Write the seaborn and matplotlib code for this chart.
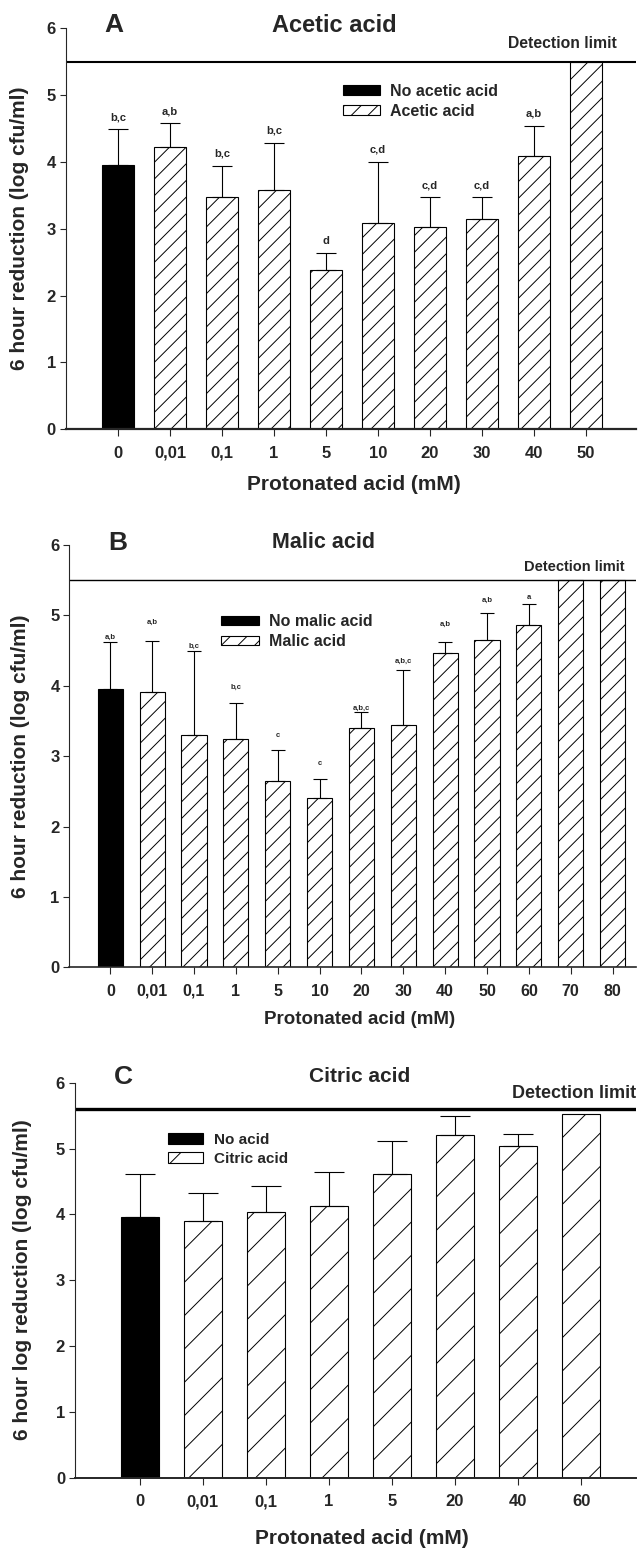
import numpy as np
import pandas as pd
import matplotlib
matplotlib.use('Agg')
import matplotlib.pyplot as plt
import seaborn as sns
from matplotlib.patches import Patch

# Valores (log cfu/ml)
conc_a = ['0', '0,01', '0,1', '1', '5', '10', '20', '30', '40', '50']
media_a = [3.95, 4.22, 3.48, 3.58, 2.38, 3.08, 3.03, 3.15, 4.09, 5.5]
error_a = [0.54, 0.36, 0.46, 0.71, 0.26, 0.92, 0.44, 0.32, 0.45, 0]
letras_a = ['b,c', 'a,b', 'b,c', 'b,c', 'd', 'c,d', 'c,d', 'c,d', 'a,b', '']
grupos_a = ['No acetic acid', 'Acetic acid']

conc_b = ['0', '0,01', '0,1', '1', '5', '10', '20', '30', '40', '50', '60', '70', '80']
media_b = [3.95, 3.91, 3.30, 3.24, 2.65, 2.40, 3.40, 3.44, 4.46, 4.65, 4.86, 5.5, 5.5]
error_b = [0.67, 0.72, 1.20, 0.51, 0.44, 0.27, 0.23, 0.79, 0.16, 0.39, 0.30, 0, 0]
letras_b = ['a,b', 'a,b', 'b,c', 'b,c', 'c', 'c', 'a,b,c', 'a,b,c', 'a,b', 'a,b', 'a', '', '']
grupos_b = ['No malic acid', 'Malic acid']

conc_c = ['0', '0,01', '0,1', '1', '5', '20', '40', '60']
media_c = [3.96, 3.90, 4.03, 4.12, 4.62, 5.21, 5.04, 5.52]
error_c = [0.65, 0.43, 0.40, 0.53, 0.50, 0.28, 0.18, 0]
letras_c = [''] * 8
grupos_c = ['No acid', 'Citric acid']

limite_ab = 5.5
limite_c = 5.6

sns.set_theme(style='ticks')
plt.rcParams['font.family'] = ['Liberation Sans', 'DejaVu Sans']
plt.rcParams['font.weight'] = 'bold'
plt.rcParams['hatch.linewidth'] = 0.7

W, H = 638, 1549
fig = plt.figure(figsize=(W / 100, H / 100), dpi=100)


def fx(x):
    return x / W


def fy(y):
    return 1 - y / H


def panel(caja, conc, media, error, letras, grupos, cfg):
    izq, arriba, der, abajo = caja
    ax = fig.add_axes([fx(izq), fy(abajo), (der - izq) / W, (abajo - arriba) / H])
    df = pd.DataFrame({'conc': conc, 'valor': media,
                       'grupo': [grupos[0]] + [grupos[1]] * (len(conc) - 1)})
    sns.barplot(data=df, x='conc', y='valor', hue='grupo', order=conc, hue_order=grupos,
                palette=['black', 'white'], dodge=False, width=0.6, errorbar=None,
                edgecolor='black', linewidth=0.8, legend=False, ax=ax)
    for barra in ax.containers[1]:
        barra.set_hatch(cfg['hatch'])

    # barras de error solo hacia arriba
    pos = np.arange(len(conc))
    media = np.array(media)
    error = np.array(error)
    m = error > 0
    ax.errorbar(pos[m], media[m], yerr=[np.zeros(m.sum()), error[m]], fmt='none',
                ecolor='black', elinewidth=0.8, capsize=cfg['cap'], capthick=0.8)
    for i, t in enumerate(letras):
        if t:
            ax.annotate(t, (i, media[i] + error[i]), xytext=(0, cfg['gap'][i]),
                        textcoords='offset pixels', ha='center', va='center',
                        fontsize=cfg['fs_letra'], fontweight='bold')

    ax.axhline(cfg['limite'], color='black', lw=cfg['lw_lim'])
    ax.set_ylim(0, 6)
    ax.set_yticks(range(7))
    ax.set_xlim(cfg['xlim'])
    sns.despine(ax=ax)
    ax.spines['left'].set_linewidth(0.8)
    ax.spines['bottom'].set_linewidth(cfg['lw_base'])
    ax.tick_params(axis='x', length=5, width=0.8, pad=7, labelsize=cfg['fs_tick'])
    ax.tick_params(axis='y', length=4, width=0.8, pad=3, labelsize=12)

    ax.set_xlabel('Protonated acid (mM)', fontsize=cfg['fs_xlab'], fontweight='bold', va='center')
    ax.xaxis.set_label_coords(fx(cfg['xlab'][0]), fy(cfg['xlab'][1]), transform=fig.transFigure)
    ax.set_ylabel(cfg['ylabel'], fontsize=15, fontweight='bold', va='center')
    ax.yaxis.set_label_coords(fx(cfg['ylab'][0]), fy(cfg['ylab'][1]), transform=fig.transFigure)

    fig.text(fx(cfg['letra'][0]), fy(cfg['letra'][1]), cfg['letra'][2], fontsize=19,
             fontweight='bold', ha='center', va='center')
    fig.text(fx(cfg['titulo'][0]), fy(cfg['titulo'][1]), cfg['titulo'][2],
             fontsize=cfg['fs_titulo'], fontweight='bold', ha='center', va='center')
    fig.text(fx(cfg['det'][0]), fy(cfg['det'][1]), 'Detection limit', fontsize=cfg['fs_det'],
             fontweight='bold', ha='right', va='center')

    manejadores = [Patch(facecolor='black', edgecolor='black', lw=0.8),
                   Patch(facecolor='white', edgecolor='black', lw=0.8, hatch=cfg['hatch'])]
    lg = cfg['leyenda']
    ax.legend(manejadores, grupos, loc='upper left', bbox_to_anchor=(fx(lg[0]), fy(lg[1])),
              bbox_transform=fig.transFigure, frameon=False, fontsize=lg[2],
              handlelength=lg[3], handleheight=lg[4], handletextpad=lg[5],
              labelspacing=lg[6], borderpad=0, borderaxespad=0)
    return ax


panel((65.5, 28.3, 636, 429.3), conc_a, media_a, error_a, letras_a, grupos_a, {
    'hatch': '//', 'cap': 7, 'gap': [12] * 10, 'fs_letra': 8, 'limite': limite_ab,
    'lw_lim': 1.5, 'lw_base': 1.6, 'xlim': (-1.01, 9.96), 'fs_tick': 12,
    'xlab': (354, 485), 'fs_xlab': 15, 'ylab': (20, 228.6),
    'ylabel': '6 hour reduction (log cfu/ml)',
    'letra': (113.5, 25, 'A'), 'titulo': (334.5, 25, 'Acetic acid'), 'fs_titulo': 17,
    'det': (617, 44), 'fs_det': 11.3,
    'leyenda': (343, 83.5, 11.5, 2.3, 0.56, 0.62, 0.33),
})

panel((69.3, 545, 636, 967.3), conc_b, media_b, error_b, letras_b, grupos_b, {
    'hatch': '//', 'cap': 5, 'gap': [5, 19, 4, 16, 14, 16, 3, 8, 18, 12, 7, 0, 0],
    'fs_letra': 5.5, 'limite': limite_ab, 'lw_lim': 1.0, 'lw_base': 1.2,
    'xlim': (-0.98, 12.56), 'fs_tick': 11.5,
    'xlab': (360, 1020), 'fs_xlab': 13.5, 'ylab': (21, 756),
    'ylabel': '6 hour reduction (log cfu/ml)',
    'letra': (118, 543, 'B'), 'titulo': (324, 543, 'Malic acid'), 'fs_titulo': 15.5,
    'det': (624, 567), 'fs_det': 10.5,
    'leyenda': (221, 614, 11.5, 2.4, 0.45, 0.62, 0.33),
})

panel((74.8, 1082.7, 636, 1477.7), conc_c, media_c, error_c, letras_c, grupos_c, {
    'hatch': '/', 'cap': 11, 'gap': [0] * 8, 'fs_letra': 8, 'limite': limite_c,
    'lw_lim': 2.4, 'lw_base': 1.4, 'xlim': (-1.03, 7.87), 'fs_tick': 12,
    'xlab': (362, 1538), 'fs_xlab': 15, 'ylab': (22.5, 1280),
    'ylabel': '6 hour log reduction (log cfu/ml)',
    'letra': (123, 1077, 'C'), 'titulo': (360, 1077, 'Citric acid'), 'fs_titulo': 15,
    'det': (636, 1093), 'fs_det': 13,
    'leyenda': (168, 1132.5, 11, 2.3, 0.7, 0.7, 0.34),
})

fig.savefig('out.png', dpi=100)
